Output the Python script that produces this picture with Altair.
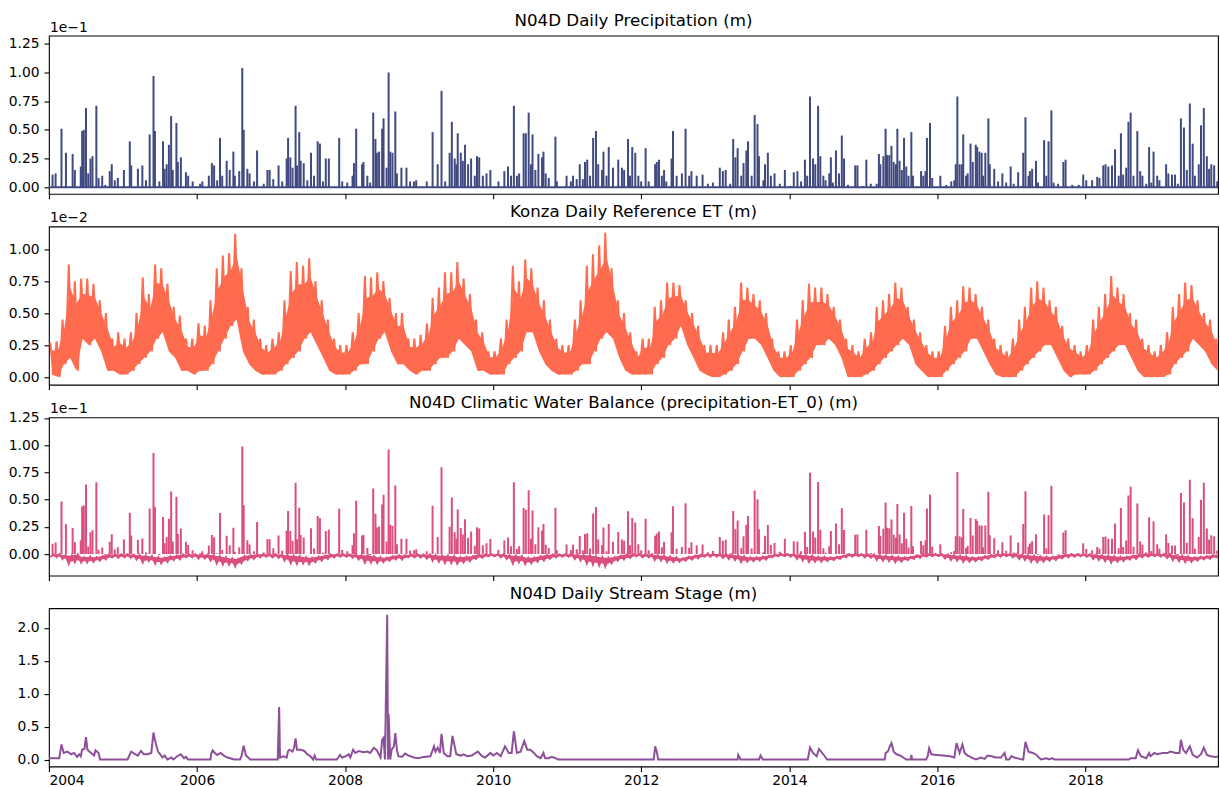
import altair as alt
import pandas as pd

FONT = "DejaVu Sans"
W, H = 1171, 158.5

# N04D daily precipitation: rain days as (decimal year, depth in units of 1e-1 m)
precip_events = [
    (2004.05, 0.11), (2004.09, 0.12), (2004.17, 0.51), (2004.23, 0.30), (2004.32, 0.29), (2004.35, 0.15),
    (2004.43, 0.18), (2004.45, 0.49), (2004.47, 0.50), (2004.50, 0.69), (2004.53, 0.12), (2004.56, 0.25),
    (2004.59, 0.27), (2004.64, 0.71), (2004.67, 0.08), (2004.72, 0.10), (2004.76, 0.02), (2004.82, 0.14),
    (2004.85, 0.20), (2004.89, 0.06), (2004.93, 0.08),
    (2005.01, 0.15), (2005.09, 0.40), (2005.11, 0.19), (2005.20, 0.16), (2005.26, 0.19), (2005.31, 0.06),
    (2005.36, 0.46), (2005.41, 0.97), (2005.43, 0.49), (2005.49, 0.05), (2005.54, 0.40), (2005.56, 0.16),
    (2005.59, 0.20), (2005.62, 0.37), (2005.65, 0.62), (2005.67, 0.15), (2005.72, 0.56), (2005.74, 0.22),
    (2005.78, 0.26), (2005.85, 0.13), (2005.88, 0.10), (2005.94, 0.05),
    (2006.04, 0.03), (2006.07, 0.05), (2006.16, 0.10), (2006.20, 0.21), (2006.23, 0.19), (2006.27, 0.06),
    (2006.31, 0.43), (2006.34, 0.10), (2006.40, 0.23), (2006.44, 0.15), (2006.49, 0.31), (2006.51, 0.10),
    (2006.57, 0.14), (2006.61, 1.04), (2006.63, 0.50), (2006.68, 0.16), (2006.71, 0.12), (2006.77, 0.05),
    (2006.81, 0.32), (2006.90, 0.03), (2006.95, 0.15), (2006.98, 0.15),
    (2007.03, 0.07), (2007.10, 0.19), (2007.15, 0.05), (2007.21, 0.25), (2007.23, 0.43), (2007.26, 0.26),
    (2007.29, 0.17), (2007.33, 0.71), (2007.35, 0.19), (2007.38, 0.48), (2007.40, 0.23), (2007.44, 0.21),
    (2007.49, 0.06), (2007.54, 0.30), (2007.58, 0.10), (2007.63, 0.40), (2007.66, 0.38), (2007.70, 0.05),
    (2007.74, 0.25), (2007.78, 0.25), (2007.92, 0.43), (2007.96, 0.05),
    (2008.03, 0.04), (2008.10, 0.10), (2008.12, 0.21), (2008.15, 0.51), (2008.23, 0.20), (2008.25, 0.22),
    (2008.30, 0.10), (2008.34, 0.04), (2008.38, 0.65), (2008.41, 0.42), (2008.43, 0.30), (2008.46, 0.31),
    (2008.50, 0.51), (2008.52, 0.60), (2008.56, 0.17), (2008.59, 1.00), (2008.61, 0.31), (2008.64, 0.30),
    (2008.68, 0.66), (2008.70, 0.12), (2008.76, 0.17), (2008.83, 0.17), (2008.88, 0.05), (2008.93, 0.05),
    (2008.96, 0.06),
    (2009.10, 0.05), (2009.18, 0.48), (2009.25, 0.20), (2009.30, 0.84), (2009.35, 0.05), (2009.41, 0.30),
    (2009.44, 0.57), (2009.48, 0.25), (2009.50, 0.20), (2009.52, 0.47), (2009.56, 0.30), (2009.59, 0.23),
    (2009.62, 0.37), (2009.66, 0.20), (2009.70, 0.25), (2009.75, 0.10), (2009.78, 0.27), (2009.81, 0.26),
    (2009.86, 0.10), (2009.91, 0.12), (2009.96, 0.15),
    (2010.07, 0.05), (2010.15, 0.14), (2010.20, 0.18), (2010.24, 0.10), (2010.28, 0.71), (2010.32, 0.10),
    (2010.35, 0.12), (2010.41, 0.47), (2010.44, 0.47), (2010.48, 0.65), (2010.51, 0.20), (2010.53, 0.46),
    (2010.57, 0.15), (2010.61, 0.29), (2010.66, 0.26), (2010.68, 0.31), (2010.71, 0.12), (2010.75, 0.08),
    (2010.84, 0.44), (2010.86, 0.05), (2010.99, 0.10),
    (2011.05, 0.05), (2011.08, 0.10), (2011.13, 0.07), (2011.17, 0.20), (2011.21, 0.07), (2011.24, 0.22),
    (2011.27, 0.24), (2011.31, 0.10), (2011.35, 0.43), (2011.39, 0.49), (2011.42, 0.20), (2011.47, 0.15),
    (2011.49, 0.31), (2011.53, 0.10), (2011.56, 0.35), (2011.62, 0.17), (2011.69, 0.24), (2011.74, 0.17),
    (2011.77, 0.15), (2011.82, 0.42), (2011.85, 0.10), (2011.88, 0.35), (2011.92, 0.30), (2011.96, 0.10),
    (2012.00, 0.05), (2012.06, 0.34), (2012.10, 0.05), (2012.19, 0.20), (2012.21, 0.22), (2012.24, 0.24),
    (2012.28, 0.10), (2012.31, 0.15), (2012.34, 0.05), (2012.41, 0.25), (2012.43, 0.49), (2012.48, 0.10),
    (2012.55, 0.12), (2012.60, 0.51), (2012.65, 0.10), (2012.68, 0.14), (2012.75, 0.10), (2012.83, 0.11),
    (2012.90, 0.03), (2012.97, 0.04),
    (2013.06, 0.17), (2013.10, 0.14), (2013.14, 0.15), (2013.20, 0.03), (2013.24, 0.42), (2013.27, 0.26),
    (2013.30, 0.34), (2013.35, 0.10), (2013.38, 0.21), (2013.42, 0.32), (2013.44, 0.40), (2013.49, 0.10),
    (2013.53, 0.63), (2013.57, 0.55), (2013.59, 0.27), (2013.65, 0.06), (2013.67, 0.20), (2013.71, 0.30),
    (2013.75, 0.10), (2013.80, 0.12), (2013.87, 0.03), (2013.94, 0.15),
    (2014.01, 0.01), (2014.06, 0.13), (2014.11, 0.14), (2014.16, 0.05), (2014.21, 0.24), (2014.24, 0.10),
    (2014.28, 0.79), (2014.32, 0.25), (2014.35, 0.20), (2014.39, 0.71), (2014.42, 0.27), (2014.46, 0.10),
    (2014.49, 0.06), (2014.54, 0.12), (2014.56, 0.26), (2014.59, 0.04), (2014.63, 0.32), (2014.67, 0.12),
    (2014.71, 0.45), (2014.74, 0.25), (2014.79, 0.02), (2014.89, 0.19), (2014.92, 0.19), (2014.99, 0.01),
    (2015.04, 0.24), (2015.10, 0.03), (2015.18, 0.03), (2015.21, 0.29), (2015.23, 0.20), (2015.27, 0.27),
    (2015.30, 0.51), (2015.32, 0.28), (2015.35, 0.28), (2015.38, 0.36), (2015.41, 0.22), (2015.44, 0.20),
    (2015.46, 0.51), (2015.49, 0.23), (2015.52, 0.15), (2015.55, 0.43), (2015.58, 0.18), (2015.61, 0.10),
    (2015.65, 0.48), (2015.67, 0.10), (2015.78, 0.14), (2015.81, 0.10), (2015.84, 0.14), (2015.86, 0.43),
    (2015.90, 0.56), (2015.93, 0.08),
    (2016.04, 0.10), (2016.12, 0.02), (2016.19, 0.05), (2016.23, 0.06), (2016.25, 0.20), (2016.27, 0.79),
    (2016.30, 0.20), (2016.33, 0.20), (2016.35, 0.46), (2016.39, 0.10), (2016.41, 0.12), (2016.45, 0.38),
    (2016.48, 0.22), (2016.52, 0.37), (2016.54, 0.35), (2016.57, 0.31), (2016.60, 0.30), (2016.62, 0.10),
    (2016.65, 0.30), (2016.69, 0.60), (2016.71, 0.20), (2016.77, 0.16), (2016.82, 0.05), (2016.88, 0.12),
    (2016.93, 0.04), (2016.99, 0.18),
    (2017.03, 0.03), (2017.09, 0.13), (2017.14, 0.01), (2017.16, 0.30), (2017.19, 0.61), (2017.23, 0.10),
    (2017.25, 0.14), (2017.28, 0.16), (2017.33, 0.23), (2017.36, 0.04), (2017.44, 0.41), (2017.47, 0.10),
    (2017.50, 0.40), (2017.54, 0.67), (2017.57, 0.04), (2017.63, 0.03), (2017.70, 0.22), (2017.73, 0.24),
    (2017.82, 0.02), (2017.91, 0.02), (2017.97, 0.11),
    (2018.01, 0.06), (2018.09, 0.06), (2018.16, 0.09), (2018.19, 0.08), (2018.24, 0.19), (2018.27, 0.20),
    (2018.31, 0.18), (2018.36, 0.19), (2018.40, 0.33), (2018.45, 0.10), (2018.48, 0.47), (2018.51, 0.11),
    (2018.55, 0.17), (2018.58, 0.57), (2018.61, 0.65), (2018.65, 0.10), (2018.70, 0.49), (2018.74, 0.14),
    (2018.77, 0.10), (2018.82, 0.03), (2018.86, 0.35), (2018.89, 0.04), (2018.92, 0.31), (2018.97, 0.10),
    (2019.00, 0.06), (2019.09, 0.20), (2019.12, 0.12), (2019.17, 0.11), (2019.21, 0.11), (2019.25, 0.03),
    (2019.29, 0.60), (2019.33, 0.52), (2019.37, 0.15), (2019.41, 0.73), (2019.45, 0.38), (2019.48, 0.10),
    (2019.53, 0.20), (2019.56, 0.54), (2019.60, 0.69), (2019.64, 0.27), (2019.67, 0.16), (2019.70, 0.20),
    (2019.74, 0.19), (2019.78, 0.05),
]

# Konza daily reference ET: highest and lowest daily value of each month (units of 1e-2 m)
et_years = list(range(2004, 2020))
et_high = [
    [0.27, 0.28, 0.45, 0.88, 0.75, 0.77, 0.77, 0.73, 0.60, 0.50, 0.30, 0.35],
    [0.30, 0.35, 0.50, 0.78, 0.65, 0.88, 0.85, 0.73, 0.55, 0.48, 0.30, 0.30],
    [0.42, 0.40, 0.60, 0.85, 0.95, 0.97, 1.12, 0.85, 0.55, 0.45, 0.30, 0.25],
    [0.30, 0.35, 0.60, 0.83, 0.90, 0.87, 0.93, 0.75, 0.60, 0.45, 0.30, 0.25],
    [0.25, 0.35, 0.50, 0.79, 0.78, 0.82, 0.75, 0.62, 0.50, 0.50, 0.30, 0.30],
    [0.33, 0.42, 0.62, 0.70, 0.82, 0.82, 0.90, 0.77, 0.65, 0.45, 0.35, 0.20],
    [0.20, 0.30, 0.45, 0.87, 0.75, 0.92, 0.85, 0.70, 0.60, 0.45, 0.30, 0.25],
    [0.25, 0.45, 0.60, 0.87, 0.96, 1.03, 1.13, 0.85, 0.60, 0.50, 0.35, 0.20],
    [0.30, 0.30, 0.55, 0.60, 0.74, 0.74, 0.72, 0.60, 0.50, 0.40, 0.25, 0.25],
    [0.25, 0.35, 0.45, 0.55, 0.74, 0.70, 0.65, 0.60, 0.50, 0.30, 0.20, 0.20],
    [0.25, 0.45, 0.60, 0.73, 0.70, 0.70, 0.65, 0.55, 0.45, 0.30, 0.25, 0.20],
    [0.30, 0.35, 0.55, 0.60, 0.65, 0.74, 0.70, 0.55, 0.45, 0.35, 0.25, 0.20],
    [0.20, 0.40, 0.55, 0.60, 0.71, 0.70, 0.65, 0.55, 0.45, 0.30, 0.25, 0.20],
    [0.30, 0.45, 0.55, 0.70, 0.75, 0.70, 0.60, 0.55, 0.40, 0.30, 0.25, 0.20],
    [0.25, 0.45, 0.55, 0.65, 0.79, 0.70, 0.65, 0.50, 0.45, 0.30, 0.25, 0.20],
    [0.25, 0.35, 0.55, 0.65, 0.74, 0.72, 0.60, 0.50, 0.45, 0.30],
]
et_low = [
    [0.02, 0.00, 0.10, 0.15, 0.05, 0.30, 0.25, 0.30, 0.20, 0.05, 0.05, 0.02],
    [0.02, 0.05, 0.10, 0.15, 0.20, 0.30, 0.35, 0.20, 0.15, 0.05, 0.05, 0.02],
    [0.05, 0.05, 0.10, 0.20, 0.30, 0.40, 0.45, 0.20, 0.10, 0.05, 0.02, 0.02],
    [0.02, 0.05, 0.10, 0.15, 0.20, 0.30, 0.35, 0.25, 0.15, 0.05, 0.02, 0.02],
    [0.02, 0.05, 0.10, 0.10, 0.20, 0.30, 0.35, 0.20, 0.10, 0.10, 0.05, 0.02],
    [0.05, 0.05, 0.10, 0.15, 0.15, 0.20, 0.30, 0.25, 0.20, 0.05, 0.05, 0.02],
    [0.02, 0.02, 0.10, 0.15, 0.20, 0.35, 0.35, 0.20, 0.10, 0.05, 0.02, 0.02],
    [0.02, 0.05, 0.10, 0.10, 0.20, 0.30, 0.35, 0.30, 0.15, 0.05, 0.02, 0.02],
    [0.02, 0.02, 0.10, 0.15, 0.25, 0.30, 0.40, 0.25, 0.15, 0.05, 0.02, 0.00],
    [0.00, 0.02, 0.05, 0.10, 0.20, 0.30, 0.30, 0.25, 0.15, 0.05, 0.00, 0.00],
    [0.00, 0.05, 0.10, 0.15, 0.25, 0.25, 0.30, 0.25, 0.15, 0.00, 0.00, 0.00],
    [0.02, 0.05, 0.10, 0.15, 0.20, 0.25, 0.30, 0.25, 0.10, 0.05, 0.00, 0.00],
    [0.00, 0.05, 0.10, 0.15, 0.20, 0.30, 0.30, 0.20, 0.10, 0.02, 0.00, 0.00],
    [0.00, 0.05, 0.10, 0.15, 0.20, 0.25, 0.25, 0.15, 0.05, 0.00, 0.02, 0.02],
    [0.02, 0.05, 0.10, 0.15, 0.20, 0.25, 0.25, 0.15, 0.05, 0.00, 0.00, 0.00],
    [0.00, 0.02, 0.10, 0.15, 0.20, 0.30, 0.25, 0.20, 0.10, 0.05],
]

# N04D daily stream stage: (decimal year, stage in m)
stage_points = [
    (2004.00, 0.02), (2004.14, 0.02), (2004.17, 0.23), (2004.20, 0.10), (2004.25, 0.12), (2004.30, 0.08),
    (2004.34, 0.10), (2004.38, 0.04), (2004.41, 0.08), (2004.43, 0.05), (2004.45, 0.15), (2004.48, 0.16),
    (2004.50, 0.34), (2004.52, 0.15), (2004.57, 0.10), (2004.61, 0.06), (2004.63, 0.14), (2004.67, 0.10),
    (2004.69, 0.00), (2005.06, 0.00), (2005.08, 0.05), (2005.11, 0.12), (2005.15, 0.09), (2005.20, 0.06),
    (2005.24, 0.13), (2005.28, 0.08), (2005.33, 0.08), (2005.38, 0.10), (2005.41, 0.41), (2005.43, 0.30),
    (2005.47, 0.12), (2005.50, 0.08), (2005.53, 0.03), (2005.56, 0.06), (2005.60, 0.00), (2005.65, 0.03),
    (2005.68, 0.00), (2005.73, 0.05), (2005.78, 0.08), (2005.82, 0.02), (2005.85, 0.04), (2005.88, 0.00),
    (2006.18, 0.00), (2006.19, 0.08), (2006.21, 0.14), (2006.24, 0.10), (2006.27, 0.07), (2006.32, 0.10),
    (2006.36, 0.06), (2006.41, 0.03), (2006.50, 0.00), (2006.58, 0.00), (2006.60, 0.05), (2006.63, 0.21),
    (2006.66, 0.06), (2006.70, 0.02), (2006.72, 0.00), (2007.09, 0.00), (2007.11, 0.80), (2007.12, 0.03),
    (2007.17, 0.05), (2007.21, 0.03), (2007.23, 0.13), (2007.25, 0.15), (2007.29, 0.12), (2007.31, 0.17),
    (2007.33, 0.32), (2007.35, 0.15), (2007.40, 0.15), (2007.45, 0.13), (2007.49, 0.08), (2007.53, 0.05),
    (2007.57, 0.00), (2007.59, 0.06), (2007.61, 0.00), (2007.89, 0.00), (2007.93, 0.07), (2007.96, 0.03),
    (2008.01, 0.05), (2008.05, 0.08), (2008.07, 0.03), (2008.11, 0.15), (2008.14, 0.10), (2008.19, 0.13),
    (2008.25, 0.11), (2008.30, 0.12), (2008.34, 0.10), (2008.39, 0.18), (2008.43, 0.14), (2008.48, 0.03),
    (2008.50, 0.30), (2008.52, 0.33), (2008.54, 0.00), (2008.57, 2.20), (2008.58, 0.00), (2008.59, 0.69),
    (2008.61, 0.00), (2008.63, 0.15), (2008.66, 0.20), (2008.68, 0.40), (2008.70, 0.15), (2008.72, 0.05),
    (2008.77, 0.04), (2008.81, 0.09), (2008.86, 0.06), (2008.93, 0.03), (2008.99, 0.02),
    (2009.06, 0.04), (2009.15, 0.05), (2009.20, 0.20), (2009.22, 0.12), (2009.25, 0.18), (2009.28, 0.10),
    (2009.30, 0.39), (2009.33, 0.10), (2009.38, 0.05), (2009.42, 0.05), (2009.45, 0.36), (2009.48, 0.20),
    (2009.50, 0.08), (2009.56, 0.06), (2009.60, 0.08), (2009.65, 0.05), (2009.71, 0.06), (2009.79, 0.12),
    (2009.85, 0.05), (2009.89, 0.03), (2009.96, 0.10), (2010.00, 0.06), (2010.05, 0.10), (2010.10, 0.05),
    (2010.16, 0.20), (2010.21, 0.10), (2010.25, 0.10), (2010.28, 0.43), (2010.32, 0.10), (2010.37, 0.12),
    (2010.42, 0.28), (2010.46, 0.15), (2010.50, 0.15), (2010.55, 0.10), (2010.59, 0.05), (2010.64, 0.02),
    (2010.68, 0.10), (2010.70, 0.02), (2010.75, 0.02), (2010.79, 0.04), (2010.84, 0.02), (2010.88, 0.00),
    (2012.17, 0.00), (2012.19, 0.20), (2012.21, 0.12), (2012.23, 0.00), (2013.30, 0.00), (2013.31, 0.07),
    (2013.34, 0.00), (2013.59, 0.00), (2013.61, 0.06), (2013.64, 0.00), (2014.25, 0.00), (2014.28, 0.18),
    (2014.32, 0.10), (2014.37, 0.05), (2014.40, 0.16), (2014.43, 0.12), (2014.48, 0.05), (2014.51, 0.00),
    (2015.29, 0.00), (2015.30, 0.10), (2015.33, 0.12), (2015.36, 0.20), (2015.38, 0.25), (2015.41, 0.12),
    (2015.45, 0.08), (2015.50, 0.06), (2015.54, 0.03), (2015.58, 0.00), (2015.64, 0.00), (2015.65, 0.07),
    (2015.66, 0.00), (2015.85, 0.00), (2015.87, 0.05), (2015.89, 0.17), (2015.92, 0.08), (2015.99, 0.07),
    (2016.08, 0.06), (2016.17, 0.05), (2016.23, 0.03), (2016.26, 0.25), (2016.30, 0.10), (2016.34, 0.23),
    (2016.37, 0.10), (2016.41, 0.06), (2016.48, 0.02), (2016.52, 0.00), (2016.59, 0.03), (2016.64, 0.01),
    (2016.68, 0.06), (2016.73, 0.05), (2016.79, 0.03), (2016.86, 0.03), (2016.91, 0.10), (2016.93, 0.00),
    (2016.97, 0.00), (2017.00, 0.05), (2017.04, 0.03), (2017.11, 0.01), (2017.16, 0.00), (2017.19, 0.27),
    (2017.23, 0.12), (2017.29, 0.10), (2017.34, 0.07), (2017.37, 0.03), (2017.40, 0.00), (2017.47, 0.02),
    (2017.51, 0.00), (2017.55, 0.02), (2017.58, 0.00), (2018.59, 0.00), (2018.61, 0.02), (2018.68, 0.02),
    (2018.71, 0.14), (2018.75, 0.05), (2018.82, 0.02), (2018.86, 0.10), (2018.88, 0.05), (2018.93, 0.10),
    (2018.97, 0.08), (2019.04, 0.10), (2019.11, 0.10), (2019.15, 0.12), (2019.22, 0.10), (2019.27, 0.10),
    (2019.29, 0.30), (2019.32, 0.15), (2019.36, 0.10), (2019.41, 0.20), (2019.45, 0.07), (2019.51, 0.03),
    (2019.56, 0.08), (2019.60, 0.18), (2019.64, 0.07), (2019.69, 0.05), (2019.76, 0.04), (2019.81, 0.05),
]

tick_years = [2004, 2006, 2008, 2010, 2012, 2014, 2016, 2018]

COLORS = {"precip": "#404a80", "et": "#ff6b4e", "cwb": "#db4f80", "stage": "#8d4f99"}


def to_date(y):
    yr = int(y)
    return pd.Timestamp(year=yr, month=1, day=1) + pd.Timedelta(days=round((y - yr) * 365.25))


# --- tables ------------------------------------------------------------
precip_df = pd.DataFrame({
    "date": [to_date(t) for t, _ in precip_events],
    "v": [v for _, v in precip_events],
})
precip_df["zero"] = 0.0

# monthly extremes drawn as a saw-tooth (one high and one low day per month),
# over a solid core running from the monthly low to the upper quartile of the monthly range
et_zig, et_core, et_mid = [], [], {}
for yr, highs, lows in zip(et_years, et_high, et_low):
    for m, (hi, lo) in enumerate(zip(highs, lows), start=1):
        upper = lo + 0.75 * (hi - lo)
        et_zig.append((pd.Timestamp(year=yr, month=m, day=8), hi))
        et_zig.append((pd.Timestamp(year=yr, month=m, day=23), lo))
        et_core.append((pd.Timestamp(year=yr, month=m, day=15), lo, upper))
        et_mid[(yr, m)] = (hi + lo) / 2
et_df = pd.DataFrame(et_zig, columns=["date", "v"])
et_core_df = pd.DataFrame(et_core, columns=["date", "v", "v2"])

# climatic water balance = precipitation - ET0 (ET converted from 1e-2 to 1e-1 m)
cwb_df = pd.DataFrame({"date": et_df["date"], "v": -et_df["v"] / 10.0})
cwb_core_df = pd.DataFrame({"date": et_core_df["date"], "v": -et_core_df["v2"] / 10.0,
                            "v2": -et_core_df["v"] / 10.0})
cwb_spikes = precip_df.copy()
cwb_spikes["v"] = [
    p - et_mid.get((d.year, d.month), 0.0) / 10.0 for d, p in zip(precip_df["date"], precip_df["v"])
]

stage_df = pd.DataFrame({
    "date": [to_date(t) for t, _ in stage_points],
    "v": [v for _, v in stage_points],
})

span_df = pd.DataFrame({"date": [pd.Timestamp("2004-01-01")], "end": [pd.Timestamp("2019-10-17")],
                        "v": [0.0]})

# --- shared scales / axes ---------------------------------------------------
x_scale = alt.Scale(domain=[alt.DateTime(year=2004, month=1, date=1),
                            alt.DateTime(year=2019, month=10, date=17)])
tick_dates = [alt.DateTime(year=y, month=1, date=1) for y in tick_years]


def x_enc(labels):
    axis = alt.Axis(values=tick_dates, labels=labels, format="%Y", title="", grid=False,
                    domain=False, ticks=True, labelOverlap=False, labelPadding=2.5)
    return alt.X("date", type="temporal", scale=x_scale, axis=axis)


def y_enc(domain, values, fmt):
    return alt.Y("v:Q", scale=alt.Scale(domain=domain, nice=False, zero=False),
                 axis=alt.Axis(values=values, format=fmt, title="", grid=False, domain=False,
                               labelOverlap=False))


def text_layer(text, size, x, y, align):
    return alt.Chart(pd.DataFrame({"label": [text]})).mark_text(
        font=FONT, fontSize=size, color="black", align=align, baseline="alphabetic"
    ).encode(text="label:N", x=alt.value(x), y=alt.value(y))


def headings(title, exponent):
    layers = [text_layer(title, 16.7, W / 2, -9.5, "center")]
    if exponent:
        layers.append(text_layer(exponent, 13.9, 1, -4, "left"))
    return layers


quarter = [0, 0.25, 0.5, 0.75, 1.0, 1.25]

# --- panel 1: precipitation ---------------------------------------------------
p_y = y_enc([-0.058, 1.322], quarter, ".2f")
p_spikes = alt.Chart(precip_df).mark_rule(color=COLORS["precip"], strokeWidth=2).encode(
    x=x_enc(False), y=p_y, y2="zero:Q")
p_base = alt.Chart(span_df).mark_rule(color=COLORS["precip"], strokeWidth=2).encode(
    x=x_enc(False), x2="end:T", y=p_y)
panel1 = alt.layer(p_spikes, p_base, *headings("N04D Daily Precipitation (m)", "1e\u22121")).properties(
    width=W, height=H)

# --- panel 2: reference ET ---------------------------------------------------------
e_y = y_enc([-0.06, 1.178], [0, 0.25, 0.5, 0.75, 1.0], ".2f")
e_core = alt.Chart(et_core_df).mark_area(color=COLORS["et"], clip=True).encode(
    x=x_enc(False), y=e_y, y2="v2:Q")
e_line = alt.Chart(et_df).mark_line(color=COLORS["et"], strokeWidth=2, clip=True).encode(
    x=x_enc(False), y=e_y)
panel2 = alt.layer(e_core, e_line, *headings("Konza Daily Reference ET (m)", "1e\u22122")).properties(
    width=W, height=H)

# --- panel 3: climatic water balance --------------------------------------------
c_y = y_enc([-0.198, 1.255], quarter, ".2f")
c_core = alt.Chart(cwb_core_df).mark_area(color=COLORS["cwb"], clip=True).encode(
    x=x_enc(False), y=c_y, y2="v2:Q")
c_line = alt.Chart(cwb_df).mark_line(color=COLORS["cwb"], strokeWidth=2, clip=True).encode(
    x=x_enc(False), y=c_y)
c_spikes = alt.Chart(cwb_spikes).mark_rule(color=COLORS["cwb"], strokeWidth=2, clip=True).encode(
    x=x_enc(False), y=c_y, y2="zero:Q")
panel3 = alt.layer(c_core, c_line, c_spikes,
                   *headings("N04D Climatic Water Balance (precipitation-ET_0) (m)", "1e\u22121")).properties(
    width=W, height=H)

# --- panel 4: stream stage -----------------------------------------------------------
s_line = alt.Chart(stage_df).mark_line(color=COLORS["stage"], strokeWidth=2, clip=True).encode(
    x=x_enc(True), y=y_enc([-0.106, 2.30], [0, 0.5, 1.0, 1.5, 2.0], ".1f"))
panel4 = alt.layer(s_line, *headings("N04D Daily Stream Stage (m)", "")).properties(width=W, height=H)

chart = alt.vconcat(panel1, panel2, panel3, panel4, spacing=32.2, bounds="flush").properties(
    padding={"left": 7, "top": 11, "right": 0, "bottom": 0}
).configure_view(
    stroke="black", strokeWidth=1.1
).configure_axis(
    labelFont=FONT, labelFontSize=13.9, labelColor="black", tickColor="black",
    tickSize=4.9, tickWidth=1.1, labelPadding=4.9
)

chart.save("out.html", embed_options={"renderer": "svg", "actions": False})
